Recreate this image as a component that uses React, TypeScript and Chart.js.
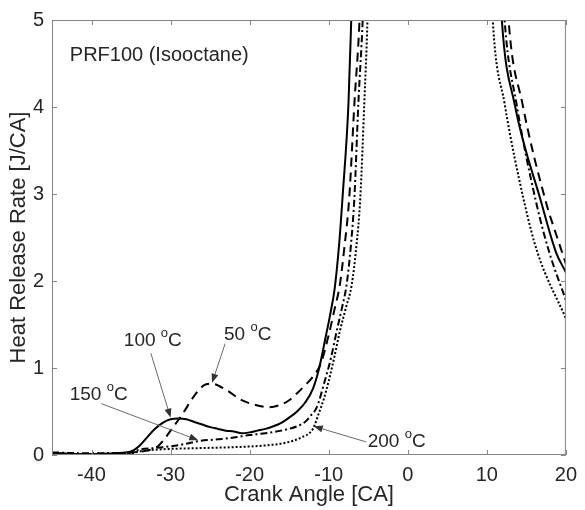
import React, { useEffect, useRef } from "react";
import { Chart, registerables } from "chart.js";

Chart.register(...registerables);

const FONT = '"Liberation Sans", Arial, Helvetica, sans-serif';
const TEXT = "#262626";

// Axis ticks
const xTicks = [-40, -30, -20, -10, 0, 10, 20];
const yTicks = [0, 1, 2, 3, 4, 5];

// 50 °C (dashed)
const ca50 = [-45, -41, -37, -35, -33, -31.5, -30, -28.5, -27, -25.8, -24.8, -23, -21, -19, -17.5, -16, -15, -14, -13, -12, -11, -10, -9.2, -8.6, -8, -7.4, -6.75, -6.1, -5.8, 3, 12.3, 12.75, 14.5, 17.5, 18.9, 20];
const hrr50 = [0.02, 0.01, 0.02, 0.03, 0.05, 0.11, 0.28, 0.47, 0.68, 0.8, 0.82, 0.75, 0.63, 0.57, 0.55, 0.58, 0.63, 0.71, 0.8, 0.9, 1.05, 1.38, 1.7, 1.95, 2.4, 2.96, 4.04, 5.0, 5.8, null, 5.8, 5.0, 4.04, 2.9, 2.5, 2.2];

// 100 °C (solid)
const ca100 = [-45, -41, -37, -35, -34, -33, -32, -31, -30, -29, -28, -27, -26, -25, -24, -23, -22, -21, -20, -19, -18, -17, -16, -15, -14, -13, -12, -11.2, -10.4, -9.8, -9.25, -8.7, -8.25, -7.5, -7.15, -6.9, 3, 11.5, 11.9, 13.5, 16.9, 18.75, 20];
const hrr100 = [0.02, 0.01, 0.02, 0.04, 0.1, 0.2, 0.3, 0.37, 0.41, 0.42, 0.41, 0.38, 0.35, 0.32, 0.3, 0.28, 0.27, 0.25, 0.26, 0.28, 0.3, 0.33, 0.37, 0.43, 0.5, 0.6, 0.76, 1.0, 1.35, 1.62, 1.91, 2.4, 2.96, 4.04, 5.0, 5.8, null, 5.8, 5.0, 4.04, 2.9, 2.33, 2.1];

// 150 °C (dash-dot)
const ca150 = [-45, -41, -37, -35, -34, -32, -30, -28, -26.5, -24, -22, -20, -18, -16, -14, -13, -12.3, -11.5, -10.5, -9.7, -9, -8.3, -7.75, -7.2, -6.75, -6.25, -5.7, -5.4, 3, 11.8, 12.25, 13.75, 16.25, 17.9, 20];
const hrr150 = [0.03, 0.02, 0.02, 0.03, 0.06, 0.08, 0.1, 0.13, 0.16, 0.18, 0.2, 0.23, 0.25, 0.28, 0.33, 0.38, 0.45, 0.55, 0.85, 1.12, 1.42, 1.7, 1.95, 2.4, 2.96, 4.04, 5.0, 5.8, null, 5.8, 5.0, 4.04, 2.9, 2.33, 1.78];

// 200 °C (dotted)
const ca200 = [-45, -41, -37, -35, -34, -32, -30, -26, -22, -18, -15.5, -13.5, -12, -11.25, -10.6, -10, -9.3, -8.6, -7.8, -7.1, -6.5, -6, -5.5, -5.1, -4.9, 3, 10.4, 10.75, 12.25, 14.75, 16.4, 20];
const hrr200 = [0.02, 0.01, 0.01, 0.02, 0.04, 0.06, 0.07, 0.08, 0.09, 0.11, 0.14, 0.2, 0.3, 0.48, 0.65, 0.85, 1.12, 1.42, 1.7, 1.95, 2.4, 2.96, 4.04, 5.0, 5.8, null, 5.8, 5.0, 4.04, 2.9, 2.33, 1.57];

// Annotations (data coordinates)
const plotTitle = "PRF100 (Isooctane)";
const plotTitleX = -42.75;
const plotTitleY = 4.59;

const noteTemps = ["100", "50", "150", "200"];
const noteX = [-32.25, -20.25, -39.1, -1.4];
const noteY = [1.33, 1.4, 0.71, 0.17];
const arrowFromX = [-32.5, -23.1, -38.75, -5.25];
const arrowFromY = [1.17, 1.28, 0.59, 0.15];
const arrowToX = [-30, -24.75, -26.5, -11.9];
const arrowToY = [0.43, 0.83, 0.17, 0.33];

function toPoints(xs: number[], ys: (number | null)[]) {
  return xs.map((x, i) => ({ x, y: ys[i] }));
}

const overlayPlugin = {
  id: "overlay",
  afterDatasetsDraw(chart: any) {
    const { ctx, chartArea: a, scales } = chart;
    const xs = scales.x;
    const ys = scales.y;
    ctx.save();

    // frame
    ctx.strokeStyle = "#858585";
    ctx.lineWidth = 1;
    ctx.strokeRect(a.left + 0.5, a.top + 0.5, a.right - a.left - 1, a.bottom - a.top - 1);

    // inward ticks on all sides
    const tl = 5;
    ctx.beginPath();
    for (const v of xTicks) {
      const px = Math.round(xs.getPixelForValue(v)) + 0.5;
      ctx.moveTo(px, a.bottom);
      ctx.lineTo(px, a.bottom - tl);
      ctx.moveTo(px, a.top);
      ctx.lineTo(px, a.top + tl);
    }
    for (const v of yTicks) {
      const py = Math.round(ys.getPixelForValue(v)) + 0.5;
      ctx.moveTo(a.left, py);
      ctx.lineTo(a.left + tl, py);
      ctx.moveTo(a.right, py);
      ctx.lineTo(a.right - tl, py);
    }
    ctx.stroke();

    // plot title
    ctx.fillStyle = TEXT;
    ctx.font = `20px ${FONT}`;
    ctx.textAlign = "left";
    ctx.textBaseline = "middle";
    ctx.fillText(plotTitle, xs.getPixelForValue(plotTitleX), ys.getPixelForValue(plotTitleY));

    // arrows
    for (let i = 0; i < noteTemps.length; i++) {
      const fx = xs.getPixelForValue(arrowFromX[i]);
      const fy = ys.getPixelForValue(arrowFromY[i]);
      const tx = xs.getPixelForValue(arrowToX[i]);
      const ty = ys.getPixelForValue(arrowToY[i]);
      const ang = Math.atan2(ty - fy, tx - fx);
      const hl = 9;
      const hw = 3.5;
      ctx.strokeStyle = "#6a6a6a";
      ctx.lineWidth = 1;
      ctx.beginPath();
      ctx.moveTo(fx, fy);
      ctx.lineTo(tx - Math.cos(ang) * hl * 0.8, ty - Math.sin(ang) * hl * 0.8);
      ctx.stroke();
      const bx = tx - Math.cos(ang) * hl;
      const by = ty - Math.sin(ang) * hl;
      ctx.fillStyle = "#333";
      ctx.beginPath();
      ctx.moveTo(tx, ty);
      ctx.lineTo(bx + Math.sin(ang) * hw, by - Math.cos(ang) * hw);
      ctx.lineTo(bx - Math.sin(ang) * hw, by + Math.cos(ang) * hw);
      ctx.closePath();
      ctx.fill();
    }

    // labels with superscript "o"
    const big = `19px ${FONT}`;
    const small = `13px ${FONT}`;
    ctx.fillStyle = TEXT;
    ctx.textBaseline = "alphabetic";
    ctx.textAlign = "left";
    for (let i = 0; i < noteTemps.length; i++) {
      const cx = xs.getPixelForValue(noteX[i]);
      const cy = ys.getPixelForValue(noteY[i]);
      const p1 = noteTemps[i] + " ";
      ctx.font = big;
      const w1 = ctx.measureText(p1).width;
      const w3 = ctx.measureText("C").width;
      ctx.font = small;
      const w2 = ctx.measureText("o").width;
      let sx = cx - (w1 + w2 + w3) / 2;
      const base = cy + 7;
      ctx.font = big;
      ctx.fillText(p1, sx, base);
      sx += w1;
      ctx.font = small;
      ctx.fillText("o", sx, base - 9);
      sx += w2;
      ctx.font = big;
      ctx.fillText("C", sx, base);
    }

    ctx.restore();
  },
};

export default function App() {
  const canvasRef = useRef<HTMLCanvasElement | null>(null);

  useEffect(() => {
    const canvas = canvasRef.current;
    if (!canvas) return;
    const base = {
      borderColor: "#000",
      backgroundColor: "#000",
      borderWidth: 2,
      pointRadius: 0,
      fill: false,
      cubicInterpolationMode: "monotone" as const,
      spanGaps: false,
    };
    const chart = new Chart(canvas, {
      type: "line",
      data: {
        datasets: [
          { ...base, label: "200 °C", data: toPoints(ca200, hrr200), borderDash: [2, 2], borderWidth: 2 },
          { ...base, label: "150 °C", data: toPoints(ca150, hrr150), borderDash: [7, 3, 2, 3] },
          { ...base, label: "50 °C", data: toPoints(ca50, hrr50), borderDash: [9, 6] },
          { ...base, label: "100 °C", data: toPoints(ca100, hrr100) },
        ] as any,
      },
      options: {
        animation: false,
        responsive: false,
        devicePixelRatio: 1,
        parsing: true,
        layout: { padding: { top: 16, right: 13, left: 0, bottom: 0 } },
        plugins: {
          legend: { display: false },
          tooltip: { enabled: false },
        },
        scales: {
          x: {
            type: "linear",
            min: -45,
            max: 20,
            afterBuildTicks: (scale: any) => {
              scale.ticks = xTicks.map((v) => ({ value: v }));
            },
            ticks: {
              color: TEXT,
              font: { family: FONT, size: 20 },
              padding: 8,
              maxRotation: 0,
              autoSkip: false,
            },
            grid: { display: false, drawTicks: false },
            border: { display: false },
            title: {
              display: true,
              text: "Crank Angle [CA]",
              color: TEXT,
              font: { family: FONT, size: 22 },
              padding: { top: 0, bottom: 2 },
            },
            afterFit: (scale: any) => {
              scale.height = 55;
            },
          },
          y: {
            type: "linear",
            min: 0,
            max: 5,
            afterBuildTicks: (scale: any) => {
              scale.ticks = yTicks.map((v) => ({ value: v }));
            },
            ticks: {
              color: TEXT,
              font: { family: FONT, size: 20 },
              padding: 8,
            },
            grid: { display: false, drawTicks: false },
            border: { display: false },
            title: {
              display: true,
              text: "Heat Release Rate [J/CA]",
              color: TEXT,
              font: { family: FONT, size: 22 },
              padding: { top: 6, bottom: 0 },
            },
            afterFit: (scale: any) => {
              scale.width = 52;
            },
          },
        },
      },
      plugins: [overlayPlugin],
    });
    return () => chart.destroy();
  }, []);

  return (
    <div style={{ position: "absolute", left: 0, top: 0, width: 585, height: 510, background: "#fff" }}>
      <canvas ref={canvasRef} width={585} height={510} style={{ display: "block", width: 585, height: 510 }} />
    </div>
  );
}
